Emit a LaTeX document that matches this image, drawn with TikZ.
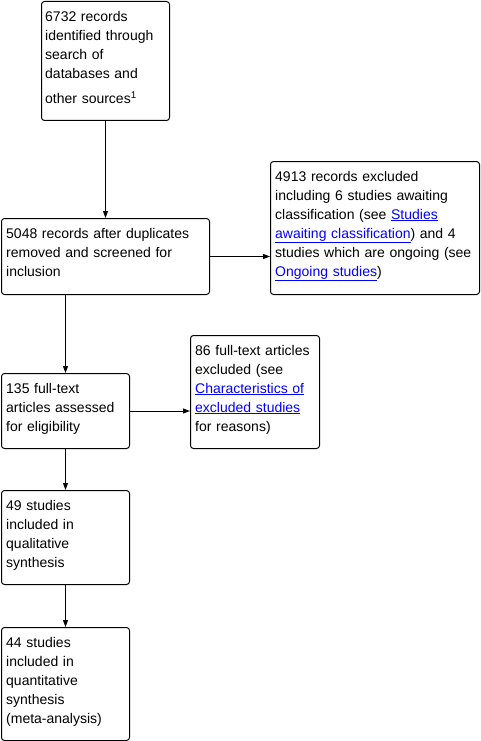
\documentclass[tikz,border=0pt]{standalone}
\usepackage{fontspec}
\setmainfont{Liberation Sans}
\usetikzlibrary{arrows.meta}
\definecolor{linkblue}{RGB}{0,0,255}
\newcommand{\lnk}[1]{\textcolor{linkblue}{\underline{#1}}}
\begin{document}
\begin{tikzpicture}[x=1pt,y=-1pt,
  box/.style={draw=black, line width=1pt, rounded corners=3pt, inner sep=0pt, anchor=north west},
  txt/.style={anchor=base west, inner sep=0pt, align=left, text width=230pt,
    font=\fontsize{14}{19}\selectfont},
  arr/.style={line width=1pt, -{Triangle[length=7pt,width=5pt]}}]
\useasboundingbox (0,0) rectangle (481,741);
\node[box, minimum width=128pt, minimum height=119pt] (b1) at (41,1) {};
\node[box, minimum width=208pt, minimum height=76pt] (b2) at (1,218) {};
\node[box, minimum width=209pt, minimum height=133pt] (b3) at (270,161) {};
\node[box, minimum width=128pt, minimum height=75pt] (b4) at (1,373) {};
\node[box, minimum width=129pt, minimum height=113pt] (b5) at (190,335) {};
\node[box, minimum width=128pt, minimum height=94pt] (b6) at (1,490) {};
\node[box, minimum width=128pt, minimum height=113pt] (b7) at (1,627) {};
\node[txt] (t1) at ([shift={(4,21)}]b1.north west) {6732 records\\identified through\\search of\\databases and\\[6pt]other sources\textsuperscript{1}};
\node[txt] (t2) at ([shift={(5,20)}]b2.north west) {5048 records after duplicates\\removed and screened for\\inclusion};
\node[txt] (t3) at ([shift={(5,20)}]b3.north west) {4913 records excluded\\including 6 studies awaiting\\classification (see \lnk{Studies}\\\lnk{awaiting classification}) and 4\\studies which are ongoing (see\\\lnk{Ongoing studies})};
\node[txt] (t4) at ([shift={(5,20)}]b4.north west) {135 full-text\\articles assessed\\for eligibility};
\node[txt] (t5) at ([shift={(5,20)}]b5.north west) {86 full-text articles\\excluded (see\\\lnk{Characteristics of}\\\lnk{excluded studies}\\for reasons)};
\node[txt] (t6) at ([shift={(5,20)}]b6.north west) {49 studies\\included in\\qualitative\\synthesis};
\node[txt] (t7) at ([shift={(5,20)}]b7.north west) {44 studies\\included in\\quantitative\\synthesis\\(meta-analysis)};
\draw[arr] (b1.south) -- (b1.south |- b2.north);
\draw[arr] (b2.east) -- (b2.east -| b3.west);
\draw[arr] (b4.north |- b2.south) -- (b4.north);
\draw[arr] (b4.east) -- (b4.east -| b5.west);
\draw[arr] (b4.south) -- (b6.north);
\draw[arr] (b6.south) -- (b7.north);
\end{tikzpicture}
\end{document}
